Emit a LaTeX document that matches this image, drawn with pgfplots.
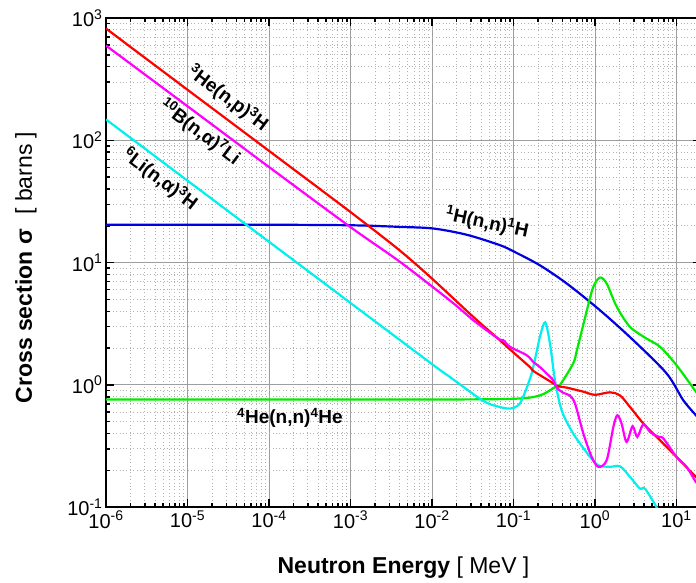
\documentclass[border=0pt]{standalone}
\usepackage{pgfplots}
\pgfplotsset{compat=1.18}
\usepackage{fontspec}
\setmainfont{Liberation Sans}
\definecolor{cRed}{RGB}{255,0,0}
\definecolor{cMag}{RGB}{255,0,255}
\definecolor{cCyan}{RGB}{0,240,240}
\definecolor{cBlue}{RGB}{0,0,225}
\definecolor{cGreen}{RGB}{0,235,0}
\begin{document}
\begin{tikzpicture}
\begin{axis}[
  xmode=log, ymode=log,
  scale only axis, width=595pt, height=489.2pt,
  xmin=1e-6, xmax=20, ymin=0.1, ymax=1000,
  xtick={1e-6,1e-5,1e-4,1e-3,1e-2,1e-1,1,10},
  xticklabels={10\textsuperscript{-6},10\textsuperscript{-5},10\textsuperscript{-4},10\textsuperscript{-3},10\textsuperscript{-2},10\textsuperscript{-1},10\textsuperscript{0},10\textsuperscript{1}},
  ytick={0.1,1,10,100,1000},
  yticklabels={10\textsuperscript{-1},10\textsuperscript{0},10\textsuperscript{1},10\textsuperscript{2},10\textsuperscript{3}},
  minor xtick={2e-6,3e-6,4e-6,5e-6,6e-6,7e-6,8e-6,9e-6,
               2e-5,3e-5,4e-5,5e-5,6e-5,7e-5,8e-5,9e-5,
               2e-4,3e-4,4e-4,5e-4,6e-4,7e-4,8e-4,9e-4,
               2e-3,3e-3,4e-3,5e-3,6e-3,7e-3,8e-3,9e-3,
               2e-2,3e-2,4e-2,5e-2,6e-2,7e-2,8e-2,9e-2,
               0.2,0.3,0.4,0.5,0.6,0.7,0.8,0.9,
               2,3,4,5,6,7,8,9,20},
  minor ytick={0.2,0.3,0.4,0.5,0.6,0.7,0.8,0.9,
               2,3,4,5,6,7,8,9,
               20,30,40,50,60,70,80,90,
               200,300,400,500,600,700,800,900},
  tick align=inside,
  major tick length=8pt, minor tick length=4pt,
  every tick/.style={black, line width=1.5pt},
  axis line style={line width=2.2pt},
  grid=both,
  major grid style={color=black!38, line width=0.9pt},
  minor grid style={color=black!30, line width=0.8pt, dash pattern=on 0.8pt off 2.6pt},
  ticklabel style={font=\fontsize{20}{24}\selectfont},
  xlabel={\textbf{Neutron Energy} [ MeV ]},
  ylabel={\textbf{Cross section σ}\hspace{0.35em} [ barns ]},
  label style={font=\fontsize{23}{27}\selectfont},
  xlabel style={at={([yshift=-60pt]axis description cs:0.5,0)}, anchor=center},
  ylabel style={at={([xshift=-80pt]axis description cs:0,0.49)}, anchor=center},
  every axis plot/.append style={line width=2.2pt, no marks},
]
% 1H(n,n)
\addplot[cBlue, smooth] coordinates {
(1e-6,20.4) (1e-5,20.4) (1e-4,20.4) (1e-3,20.2) (4e-3,19.6) (0.0104,19.0)
(0.0266,16.9) (0.068,13.9) (0.104,12.2) (0.211,9.5) (0.45,6.75) (1.15,4.08)
(2.95,2.32) (7.57,1.24) (12.1,0.75) (17.3,0.565) (20,0.50)};
% 4He(n,n)
\addplot[cGreen, smooth] coordinates {
(1e-6,0.76) (1e-4,0.76) (0.01,0.76) (0.099,0.77) (0.211,0.82) (0.323,0.96)
(0.372,1.0) (0.54,1.50) (0.60,1.92) (0.79,4.0) (0.95,6.3) (1.15,7.55)
(1.39,6.75) (1.85,4.35) (2.69,2.98) (4.3,2.39) (6.28,2.05) (10,1.45)
(17.3,0.88) (20,0.78)};
% 6Li(n,a)
\addplot[cCyan, smooth] coordinates {
(1e-6,148) (1e-5,46.8) (1e-4,14.8) (1e-3,4.68) (1e-2,1.48) (0.0166,1.16)
(0.0426,0.74) (0.068,0.66) (0.0906,0.64) (0.11,0.67) (0.126,0.75) (0.167,1.24)
(0.211,2.47) (0.245,3.25) (0.28,2.18) (0.323,1.09) (0.39,0.62) (0.54,0.40)
(0.87,0.258) (1.10,0.220) (1.53,0.214) (2.03,0.216) (2.69,0.177) (3.56,0.142)
(4.1,0.142) (5.7,0.10) (6.5,0.085)};
% 3He(n,p)
\addplot[cRed, smooth] coordinates {
(1e-6,820) (1e-5,259) (1e-4,82) (1e-3,25.9) (4e-3,12.6) (0.01,7.4)
(0.0321,3.6) (0.068,2.32) (0.0906,1.95) (0.159,1.40) (0.175,1.30)
(0.308,1.03) (0.339,0.98) (0.45,0.95) (0.72,0.88) (1.0,0.83) (1.53,0.87)
(2.03,0.82) (2.69,0.66) (3.92,0.483) (5.7,0.376) (10,0.258) (17.3,0.177) (20,0.165)};
% 10B(n,a)
\addplot[cMag, smooth] coordinates {
(1e-6,595) (1e-5,190) (1e-4,60.5) (1e-3,19.5) (4e-3,10.2) (0.0166,4.9)
(0.0336,3.3) (0.0652,2.39) (0.075,2.32) (0.0906,2.05) (0.145,1.75) (0.175,1.54)
(0.211,1.40) (0.255,1.24) (0.308,1.09) (0.339,0.95) (0.41,0.86) (0.49,0.82)
(0.57,0.70) (0.72,0.40) (0.91,0.258) (1.10,0.214) (1.39,0.242) (1.68,0.454)
(1.88,0.565) (2.12,0.483) (2.44,0.342) (2.89,0.459) (3.30,0.376) (3.92,0.478)
(4.73,0.413) (5.98,0.376) (6.89,0.365) (10,0.258) (13.3,0.214) (17.3,0.161) (20,0.15)};
\node[font=\bfseries\fontsize{19}{22}\selectfont, rotate=-37] at (axis cs:3.14e-5,221) {\textsuperscript{3}He(n,p)\textsuperscript{3}H};
\node[font=\bfseries\fontsize{19}{22}\selectfont, rotate=-37] at (axis cs:1.42e-5,116) {\textsuperscript{10}B(n,α)\textsuperscript{7}Li};
\node[font=\bfseries\fontsize{19}{22}\selectfont, rotate=-37] at (axis cs:4.6e-6,48) {\textsuperscript{6}Li(n,α)\textsuperscript{3}H};
\node[font=\bfseries\fontsize{19}{22}\selectfont, rotate=-12] at (axis cs:0.0473,21.0) {\textsuperscript{1}H(n,n)\textsuperscript{1}H};
\node[font=\bfseries\fontsize{19}{22}\selectfont] at (axis cs:1.81e-4,0.535) {\textsuperscript{4}He(n,n)\textsuperscript{4}He};
\coordinate (bl) at (axis cs:1e-6,0.1);
\coordinate (tr) at (axis cs:17.35,1000);
\end{axis}
\pgfresetboundingbox
\useasboundingbox ([xshift=-106pt,yshift=-75pt]bl) rectangle ([yshift=18pt]tr);
\end{tikzpicture}
\end{document}
